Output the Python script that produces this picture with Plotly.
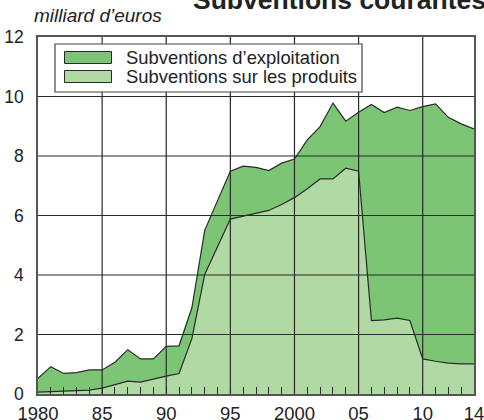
import plotly.graph_objects as go

years = list(range(1980, 2015))
total = [0.53, 0.92, 0.69, 0.72, 0.81, 0.81, 1.07, 1.49, 1.18, 1.18,
         1.60, 1.62, 2.90, 5.50, 6.50, 7.49, 7.66, 7.62, 7.51, 7.76,
         7.90, 8.54, 8.99, 9.78, 9.17, 9.47, 9.73, 9.46, 9.64, 9.53,
         9.66, 9.75, 9.30, 9.08, 8.91]
produits = [0.06, 0.08, 0.08, 0.11, 0.13, 0.20, 0.32, 0.43, 0.40, 0.51,
            0.60, 0.69, 1.86, 4.02, 4.95, 5.88, 5.98, 6.08, 6.17, 6.37,
            6.60, 6.90, 7.23, 7.23, 7.59, 7.49, 2.47, 2.49, 2.55, 2.47,
            1.18, 1.10, 1.04, 1.01, 1.01]

xtick_vals = [1980, 1985, 1990, 1995, 2000, 2005, 2010, 2014]
xtick_text = ["1980", "85", "90", "95", "2000", "05", "10", "14"]
ytick_vals = [0, 2, 4, 6, 8, 10, 12]
legend_labels = ["Subventions d\u2019exploitation", "Subventions sur les produits"]
title_text = "Subventions courantes"
unit_text = "milliard d\u2019euros"

DARK = "#7bc575"
LIGHT = "#b0d9a4"
LINE = "#2a2a2a"
FONT = "Liberation Sans, Arial, sans-serif"

W, H = 484, 420
L, R, T, B = 38, 10, 37, 26
PW, PH = W - L - R, H - T - B

def px(x):
    return (x - L) / PW

def py(y):
    return (H - B - y) / PH

fig = go.Figure()
fig.add_trace(go.Scatter(x=years, y=produits, mode="lines", fill="tozeroy",
                         fillcolor=LIGHT, line=dict(color=LINE, width=1.2),
                         name=legend_labels[1], showlegend=False))
fig.add_trace(go.Scatter(x=years, y=total, mode="lines", fill="tonexty",
                         fillcolor=DARK, line=dict(color=LINE, width=1.2),
                         name=legend_labels[0], showlegend=False))

shapes = []
for xv in xtick_vals[1:-1]:
    shapes.append(dict(type="line", xref="x", yref="paper", x0=xv, x1=xv, y0=0, y1=1,
                       line=dict(color=LINE, width=1.2), layer="above"))
for yv in ytick_vals[1:-1]:
    shapes.append(dict(type="line", xref="paper", yref="y", x0=0, x1=1, y0=yv, y1=yv,
                       line=dict(color=LINE, width=1.2), layer="above"))
# legend box
shapes.append(dict(type="rect", xref="paper", yref="paper",
                   x0=px(55), x1=px(362), y0=py(92), y1=py(44),
                   fillcolor="white", line=dict(color="#444", width=1.2), layer="above"))
shapes.append(dict(type="rect", xref="paper", yref="paper",
                   x0=px(64.5), x1=px(111.5), y0=py(63.5), y1=py(51.5),
                   fillcolor=DARK, line=dict(color=LINE, width=1), layer="above"))
shapes.append(dict(type="rect", xref="paper", yref="paper",
                   x0=px(64.5), x1=px(111.5), y0=py(82.5), y1=py(70.5),
                   fillcolor=LIGHT, line=dict(color=LINE, width=1), layer="above"))

annotations = [
    dict(text=legend_labels[0], xref="paper", yref="paper", x=px(124), y=py(57.5),
         xanchor="left", yanchor="middle", showarrow=False,
         font=dict(family=FONT, size=18.4, color="#222")),
    dict(text=legend_labels[1], xref="paper", yref="paper", x=px(124), y=py(76.5),
         xanchor="left", yanchor="middle", showarrow=False,
         font=dict(family=FONT, size=18.4, color="#222")),
    dict(text="<i>" + unit_text + "</i>", xref="paper", yref="paper", x=px(164), y=py(15.5),
         xanchor="right", yanchor="middle", showarrow=False,
         font=dict(family=FONT, size=19, color="#222")),
    dict(text="<b>" + title_text + "</b>", xref="paper", yref="paper", x=px(191), y=py(0),
         xanchor="left", yanchor="middle", showarrow=False,
         font=dict(family=FONT, size=26.5, color="#222")),
]

fig.update_layout(
    width=W, height=H,
    margin=dict(l=L, r=R, t=T, b=B, pad=0, autoexpand=False),
    paper_bgcolor="white", plot_bgcolor="white",
    showlegend=False,
    shapes=shapes, annotations=annotations,
    font=dict(family=FONT, size=18, color="#222"),
    xaxis=dict(range=[1980, 2014], tickmode="array", tickvals=xtick_vals, ticktext=xtick_text,
               showgrid=False, zeroline=False, showline=True, mirror=True, automargin=False,
               linecolor="#555", linewidth=1.5, ticks="inside", ticklen=7, tickwidth=1,
               tickcolor=LINE, layer="above traces", ticklabelstandoff=2,
               ticklabeloverflow="allow",
               minor=dict(tickmode="array", tickvals=years, ticks="inside", ticklen=7,
                          tickwidth=1, tickcolor=LINE, showgrid=False),
               tickfont=dict(family=FONT, size=18.5, color="#222")),
    yaxis=dict(range=[0, 12], tickmode="array", tickvals=ytick_vals,
               showgrid=False, zeroline=False, showline=True, mirror=True, automargin=False,
               linecolor="#555", linewidth=1.5, ticks="", layer="above traces",
               ticklabelstandoff=9, ticklabeloverflow="allow",
               tickfont=dict(family=FONT, size=17.5, color="#222")),
)

fig.write_html("out.html", config={"displayModeBar": False},
               post_script="document.body.style.margin='0px';document.body.style.padding='0px';")
